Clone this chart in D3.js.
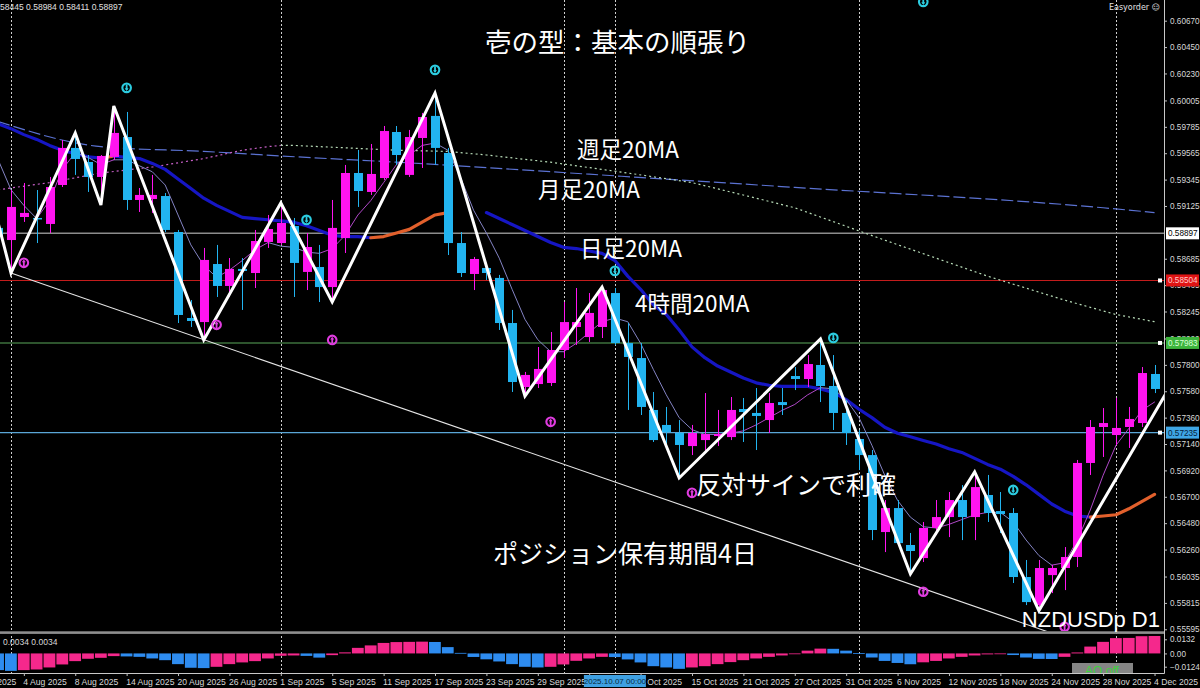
<!DOCTYPE html>
<html>
<head>
<meta charset="utf-8">
<script src="https://cdn.jsdelivr.net/npm/d3@7"></script>
<style>
  html, body { margin: 0; padding: 0; background: #000; overflow: hidden; }
  svg { display: block; }
  .ax text { font-family: "Liberation Sans", Arial, sans-serif; font-size: 8.2px; fill: #d8d8d8; }
  .ax line { stroke: #c0c0c0; }
  .ax path { display: none; }
  .jp { font-family: "Noto Sans CJK JP", sans-serif; fill: #fff; }
</style>
</head>
<body>
<svg id="chart" width="1200" height="688"></svg>
<script>
// daily bars, NZDUSDp D1
const dates = [
  "29 Jul 2025","30 Jul 2025","31 Jul 2025",
  "1 Aug 2025","4 Aug 2025","5 Aug 2025","6 Aug 2025","7 Aug 2025","8 Aug 2025","11 Aug 2025","12 Aug 2025","13 Aug 2025","14 Aug 2025",
  "15 Aug 2025","18 Aug 2025","19 Aug 2025","20 Aug 2025","21 Aug 2025","22 Aug 2025","25 Aug 2025","26 Aug 2025","27 Aug 2025","28 Aug 2025","29 Aug 2025",
  "1 Sep 2025","2 Sep 2025","3 Sep 2025","4 Sep 2025","5 Sep 2025","8 Sep 2025","9 Sep 2025","10 Sep 2025","11 Sep 2025","12 Sep 2025",
  "15 Sep 2025","16 Sep 2025","17 Sep 2025","18 Sep 2025","19 Sep 2025","22 Sep 2025","23 Sep 2025","24 Sep 2025","25 Sep 2025","26 Sep 2025","29 Sep 2025","30 Sep 2025",
  "1 Oct 2025","2 Oct 2025","3 Oct 2025","6 Oct 2025","7 Oct 2025","8 Oct 2025","9 Oct 2025","10 Oct 2025","13 Oct 2025","14 Oct 2025",
  "15 Oct 2025","16 Oct 2025","17 Oct 2025","20 Oct 2025","21 Oct 2025","22 Oct 2025","23 Oct 2025","24 Oct 2025","27 Oct 2025","28 Oct 2025","29 Oct 2025","30 Oct 2025","31 Oct 2025",
  "3 Nov 2025","4 Nov 2025","5 Nov 2025","6 Nov 2025","7 Nov 2025","10 Nov 2025","11 Nov 2025","12 Nov 2025","13 Nov 2025","14 Nov 2025",
  "17 Nov 2025","18 Nov 2025","19 Nov 2025","20 Nov 2025","21 Nov 2025","24 Nov 2025","25 Nov 2025","26 Nov 2025","27 Nov 2025","28 Nov 2025",
  "1 Dec 2025","2 Dec 2025","3 Dec 2025","4 Dec 2025","5 Dec 2025"
];

const open = [null, null,
  0.58942,0.58841,0.59033,0.59025,0.58975,0.59300,0.59609,0.59492,0.59367,0.59534,
  0.59700,0.59175,0.59183,0.59208,0.58908,0.58191,0.58157,0.58641,0.58458,0.58600,
  0.58566,0.58825,0.58816,0.58958,0.58575,0.58616,0.58449,0.58858,0.59400,0.59242,
  0.59358,0.59742,0.59384,0.59692,0.59876,0.59567,0.58816,0.58558,0.58608,0.58525,
  0.58149,0.57615,0.57640,0.57649,0.57924,0.58116,0.58032,0.58116,0.58399,0.57982,
  0.57857,0.57424,0.57299,0.57232,0.57123,0.57173,0.57207,0.57198,0.57432,0.57399,
  0.57340,0.57490,0.57707,0.57682,0.57799,0.57624,0.57399,0.57182,0.57048,0.56406,
  0.56606,0.56298,0.56189,0.56440,0.56531,0.56673,0.56531,0.56715,0.56581,0.56565,
  0.56031,0.55797,0.56047,0.56106,0.56198,0.56982,0.57282,0.57215,0.57282,0.57315,
  0.57724, null];

const high = [null, null,
  0.58992,0.59258,0.59317,0.59258,0.59367,0.59675,0.59734,0.59550,0.59550,0.59959,
  0.59909,0.59275,0.59384,0.59233,0.58925,0.58341,0.58775,0.58800,0.58691,0.58691,
  0.58925,0.59050,0.59150,0.59025,0.58900,0.58800,0.59175,0.59467,0.59592,0.59642,
  0.59792,0.59792,0.59759,0.59901,0.60067,0.59609,0.58908,0.58700,0.58633,0.58550,
  0.58258,0.57741,0.57949,0.58074,0.58324,0.58441,0.58399,0.58449,0.58441,0.58149,
  0.57982,0.57574,0.57449,0.57340,0.57299,0.57565,0.57424,0.57532,0.57524,0.57607,
  0.57565,0.57607,0.57782,0.57882,0.58016,0.57882,0.57507,0.57257,0.57090,0.56673,
  0.56673,0.56398,0.56490,0.56673,0.56740,0.56798,0.56907,0.56882,0.56740,0.56606,
  0.56173,0.56173,0.56131,0.56281,0.57007,0.57340,0.57440,0.57524,0.57449,0.57782,
  0.57799, null];

const low = [null, null,
  0.58841,0.58566,0.58992,0.58816,0.58900,0.59283,0.59384,0.59242,0.59133,0.59509,
  0.59092,0.59075,0.59067,0.58908,0.58149,0.58116,0.58007,0.58366,0.58366,0.58258,
  0.58441,0.58775,0.58800,0.58366,0.58424,0.58324,0.58324,0.58733,0.59117,0.59217,
  0.59342,0.59467,0.59367,0.59442,0.59467,0.58716,0.58533,0.58424,0.58508,0.58091,
  0.57574,0.57540,0.57607,0.57624,0.57857,0.57966,0.57991,0.58024,0.57966,0.57424,
  0.57382,0.57157,0.57115,0.56857,0.57048,0.57073,0.57123,0.57173,0.57157,0.57090,
  0.57232,0.57382,0.57590,0.57615,0.57490,0.57257,0.57132,0.56923,0.56339,0.56239,
  0.56298,0.56056,0.56156,0.56381,0.56364,0.56339,0.56339,0.56490,0.56398,0.55981,
  0.55797,0.55739,0.55897,0.55922,0.56114,0.56882,0.57032,0.57132,0.57107,0.57282,
  0.57565, null];

const close = [null, null,
  0.58866,0.59117,0.59067,0.59017,0.59283,0.59609,0.59517,0.59367,0.59542,0.59734,
  0.59175,0.59217,0.59217,0.58925,0.58216,0.58166,0.58675,0.58458,0.58600,0.58583,
  0.58833,0.58933,0.58983,0.58650,0.58783,0.58449,0.58942,0.59400,0.59250,0.59392,
  0.59750,0.59550,0.59700,0.59867,0.59609,0.58816,0.58566,0.58683,0.58566,0.58149,
  0.57657,0.57716,0.57766,0.57924,0.58157,0.58157,0.58233,0.58424,0.57982,0.57866,
  0.57449,0.57173,0.57240,0.57132,0.57232,0.57223,0.57223,0.57424,0.57407,0.57374,
  0.57482,0.57465,0.57682,0.57807,0.57624,0.57399,0.57232,0.57048,0.56423,0.56606,
  0.56314,0.56248,0.56440,0.56531,0.56673,0.56531,0.56781,0.56565,0.56556,0.56031,
  0.55822,0.56106,0.56106,0.56198,0.56982,0.57282,0.57315,0.57274,0.57349,0.57732,
  0.57599, null];

// 日足20MA (thick, blue falling / orange rising)
const maDaily = [null, null,
  0.5981,0.5977,0.5972,0.5968,0.5963,0.5959,0.5956,0.59535,0.59525,0.5954,
  0.5953,0.5952,0.5948,0.5943,0.5935,0.5927,0.5919,0.5913,0.5908,0.5903,
  0.5902,0.5901,0.5900,0.5899,0.5896,0.5892,0.5888,0.5887,0.5887,0.5886,
  0.5887,0.5890,0.5893,0.5899,0.5905,0.5907,null,null,0.5907,0.5902,
  0.5897,0.5892,0.5887,0.5882,0.5878,0.5877,0.5875,0.5873,0.5867,0.5854,
  0.5843,0.5830,0.5822,0.5809,0.5795,0.5786,0.5779,0.5774,0.5769,0.5765,
  0.5763,0.5762,0.5762,0.5762,0.5760,0.5757,0.5751,0.5743,0.5736,0.5728,
  0.5723,0.5720,0.5717,0.5714,0.5710,0.5707,0.5702,0.5697,0.5693,0.5687,
  0.5680,0.5672,0.5664,0.5658,0.5654,0.5653,0.5654,0.5655,0.5660,0.5666,
  0.5672, null];

// 4時間20MA (thin)
const ma4h = [null, null,
  0.5951,0.5926,0.5913,0.5902,0.5917,0.5943,0.5957,0.5953,0.5947,0.5951,
  0.5951,0.5946,0.5941,0.5930,0.5905,0.5880,0.5863,0.5853,0.5859,0.5867,
  0.5876,0.5882,0.5879,0.5878,0.5874,0.5873,0.5877,0.5888,0.5905,0.5917,
  0.5932,0.5947,0.5955,0.5963,0.5965,0.5959,0.5936,0.5909,0.5890,0.5869,
  0.5843,0.5818,0.5801,0.5791,0.5791,0.5798,0.5807,0.5816,0.5819,0.5816,
  0.5798,0.5776,0.5755,0.5736,0.5726,0.5722,0.5722,0.5723,0.5725,0.5730,
  0.5736,0.5742,0.5747,0.5755,0.5761,0.5760,0.5751,0.5736,0.5713,0.5688,
  0.5667,0.5653,0.5645,0.5644,0.5647,0.5651,0.5655,0.5657,0.5657,0.5649,
  0.5634,0.5621,0.5613,0.5615,0.5634,0.5659,0.5688,0.5713,0.5727,0.5742,
  0.5749, null];

// 週足20MA (dotted)
const maWeekDates = ["31 Jul 2025","6 Aug 2025","12 Aug 2025","18 Aug 2025","22 Aug 2025","27 Aug 2025","29 Aug 2025","1 Sep 2025",
  "2 Sep 2025","12 Sep 2025","18 Sep 2025","23 Sep 2025","30 Sep 2025","8 Oct 2025","15 Oct 2025","22 Oct 2025","27 Oct 2025",
  "5 Nov 2025","17 Nov 2025","25 Nov 2025","1 Dec 2025","4 Dec 2025"];
const maWeek = [0.5926,0.5932,0.5940,0.5945,0.5952,0.5959,0.5962,0.5963,
  0.5963,0.5959,0.5958,0.5955,0.5949,0.5940,0.5932,0.5919,0.5911,
  0.5884,0.5854,0.5834,0.5822,0.5816];

// 月足20MA (dashed)
const maMonthDates = ["31 Jul 2025","12 Aug 2025","22 Aug 2025","3 Sep 2025","12 Sep 2025","3 Oct 2025","27 Oct 2025","28 Nov 2025","4 Dec 2025"];
const maMonth = [0.5983,0.5962,0.5958,0.5953,0.5949,0.5939,0.5928,0.5911,0.5907];

// ZigZag
const zigDates = ["30 Jul 2025","1 Aug 2025","8 Aug 2025","12 Aug 2025","13 Aug 2025","22 Aug 2025","1 Sep 2025","5 Sep 2025",
  "17 Sep 2025","26 Sep 2025","6 Oct 2025","14 Oct 2025","29 Oct 2025","7 Nov 2025","14 Nov 2025","21 Nov 2025","5 Dec 2025"];
const zigPrice = [0.5940,0.58566,0.59734,0.59133,0.59959,0.58007,0.59150,0.58324,
  0.60067,0.57540,0.58449,0.56857,0.58016,0.56056,0.56907,0.55750,0.57583];

// trend line
const trendDates = ["1 Aug 2025","24 Nov 2025"];
const trendPrice = [0.58566, 0.55563];

// signal arrows
const sellDates = ["14 Aug 2025","3 Sep 2025","17 Sep 2025","7 Oct 2025","30 Oct 2025","10 Nov 2025","19 Nov 2025"];
const sellPrice = [0.60110,0.59009,0.60260,0.58584,0.58025,0.60827,0.56757];
const buyDates = ["4 Aug 2025","25 Aug 2025","5 Sep 2025","30 Sep 2025","15 Oct 2025","10 Nov 2025","25 Nov 2025"];
const buyPrice = [0.58651,0.58134,0.58008,0.57325,0.56733,0.55908,0.55616];

// AO
const ao = [null, null,
  -0.0156,-0.0163,-0.0156,-0.0150,-0.0131,-0.0103,-0.0072,-0.0050,-0.0041,-0.0025,
  -0.0028,-0.0032,-0.0047,-0.0063,-0.0100,-0.0134,-0.0137,-0.0125,-0.0100,-0.0084,
  -0.0072,-0.0047,-0.0022,-0.0019,-0.0023,-0.0039,-0.0016,0.0010,0.0052,0.0075,
  0.0098,0.0106,0.0108,0.0110,0.0107,0.0059,0.0005,-0.0033,-0.0055,-0.0075,
  -0.0100,-0.0125,-0.0131,-0.0125,-0.0103,-0.0069,-0.0047,-0.0032,-0.0034,-0.0056,
  -0.0084,-0.0119,-0.0131,-0.0144,-0.0131,-0.0119,-0.0100,-0.0081,-0.0063,-0.0047,
  -0.0032,-0.0019,-0.0007,0.0026,0.0045,0.0043,0.0026,0.0004,-0.0038,-0.0070,
  -0.0089,-0.0101,-0.0083,-0.0070,-0.0047,-0.0032,-0.0019,-0.0009,-0.0004,-0.0015,
  -0.0038,-0.0051,-0.0052,-0.0032,0.0009,0.0064,0.0108,0.0143,0.0145,0.0161,
  0.0163, null];

// horizontal lines
const hPrices = [0.58897, 0.58504, 0.57983, 0.57235];
const hLine = ["#8c8c8c", "#c41c1c", "#5aa85a", "#5aa6d6"];
const hBox = ["#ffffff", "#e01414", "#3cb43c", "#3ea6e6"];
const hText = ["#000000", "#ffc8c8", "#d8ffd8", "#06223a"];

const priceTicks = [0.60670,0.60450,0.60230,0.60005,0.59785,0.59565,0.59345,0.59125,0.58685,0.58465,0.58245,0.58020,
  0.57800,0.57580,0.57360,0.57140,0.56920,0.56700,0.56480,0.56260,0.56035,0.55815,0.55595];
const aoTicks = [0.0132, 0, -0.0124];
const xTickLabels = ["29 Jul 2025","4 Aug 2025","8 Aug 2025","14 Aug 2025","20 Aug 2025","26 Aug 2025","1 Sep 2025","5 Sep 2025",
  "11 Sep 2025","17 Sep 2025","23 Sep 2025","29 Sep 2025","3 Oct 2025","9 Oct 2025","15 Oct 2025","21 Oct 2025","27 Oct 2025",
  "31 Oct 2025","6 Nov 2025","12 Nov 2025","18 Nov 2025","24 Nov 2025","28 Nov 2025","4 Dec 2025"];
const monthStarts = ["1 Aug 2025","1 Sep 2025","1 Oct 2025","3 Nov 2025","1 Dec 2025"];
const crossDate = "7 Oct 2025";

const svg = d3.select("#chart");
const plotR = 1164, mainB = 631, aoT = 634, aoB = 673;
const axFont = "Liberation Sans, Arial, sans-serif";

const x = d3.scaleLinear()
  .domain([dates.indexOf("1 Aug 2025"), dates.indexOf("1 Dec 2025")])
  .range([11, 1116]);
const y = d3.scaleLinear().domain([0.55595, 0.60670]).range([629.3, 20.7]);
const yAo = d3.scaleLinear().domain([-0.0124, 0.0132]).range([666.7, 639.3]);
const ix = d => dates.indexOf(d);

svg.append("rect").attr("width", 1200).attr("height", 688).attr("fill", "#000");

const defs = svg.append("defs");
defs.append("clipPath").attr("id", "cMain").append("rect").attr("x", 0).attr("y", 0).attr("width", plotR).attr("height", mainB);
defs.append("clipPath").attr("id", "cAo").append("rect").attr("x", 0).attr("y", aoT).attr("width", plotR).attr("height", aoB - aoT);

// vertical dotted separators + crosshair
const vg = svg.append("g");
monthStarts.concat([crossDate]).forEach(d => {
  vg.append("line")
    .attr("x1", Math.round(x(ix(d))) + 0.5).attr("x2", Math.round(x(ix(d))) + 0.5)
    .attr("y1", 0).attr("y2", aoB)
    .attr("stroke", "#cfcfcf").attr("stroke-width", 1).attr("stroke-dasharray", "2,2");
});

const main = svg.append("g").attr("clip-path", "url(#cMain)");

// horizontal lines
hPrices.forEach((p, i) => {
  main.append("line")
    .attr("x1", 0).attr("x2", plotR)
    .attr("y1", y(p)).attr("y2", y(p))
    .attr("stroke", hLine[i]).attr("stroke-width", i === 0 ? 1.6 : 1.1);
});

// run-coloured line helper: colour by direction
function runLine(g, pts, upCol, downCol, width, dash) {
  const line = d3.line().x(d => x(d[0])).y(d => y(d[1]));
  let run = [], col = null;
  const flush = () => {
    if (run.length > 1) {
      const p = g.append("path").datum(run).attr("d", line)
        .attr("fill", "none").attr("stroke", col).attr("stroke-width", width)
        .attr("stroke-linejoin", "round").attr("stroke-linecap", dash ? "butt" : "round");
      if (dash) p.attr("stroke-dasharray", dash);
    }
  };
  for (let i = 1; i < pts.length; i++) {
    const a = pts[i - 1], b = pts[i];
    if (a[1] == null || b[1] == null) { flush(); run = []; col = null; continue; }
    const c = b[1] > a[1] ? upCol : downCol;
    if (c !== col) { flush(); run = [a]; col = c; }
    run.push(b);
  }
  flush();
}

// monthly MA dashed
main.append("path")
  .datum(maMonthDates.map((d, i) => [ix(d), maMonth[i]]))
  .attr("d", d3.line().x(d => x(d[0])).y(d => y(d[1])).curve(d3.curveMonotoneX))
  .attr("fill", "none").attr("stroke", "#5b72d2").attr("stroke-width", 1.2).attr("stroke-dasharray", "12,4");

// weekly MA dotted
runLine(main, maWeekDates.map((d, i) => [ix(d), maWeek[i]]), "#c860c8", "#b8dcb8", 1.2, "2,3");

// daily MA thick
runLine(main, maDaily.map((v, i) => [i, v]), "#e2602c", "#1616c4", 3.2, null);

// 4H MA thin
runLine(main, ma4h.map((v, i) => [i, v]), "#b048c8", "#8484c4", 1, null);

// candles
const bull = "#ff14f0", bear = "#22b4f0";
const bars = d3.range(dates.length).filter(i => open[i] != null);
const cg = main.append("g");
cg.selectAll("line.wick").data(bars).join("line")
  .attr("x1", i => Math.round(x(i)) + 0.5).attr("x2", i => Math.round(x(i)) + 0.5)
  .attr("y1", i => y(high[i])).attr("y2", i => y(low[i]))
  .attr("stroke", i => close[i] >= open[i] ? bull : bear).attr("stroke-width", 1);
cg.selectAll("rect.body").data(bars).join("rect")
  .attr("x", i => Math.round(x(i)) - 4).attr("width", 9)
  .attr("y", i => y(Math.max(open[i], close[i])))
  .attr("height", i => Math.max(1.5, Math.abs(y(open[i]) - y(close[i]))))
  .attr("fill", i => close[i] >= open[i] ? bull : bear);

// trend line + zigzag
main.append("path")
  .datum(trendDates.map((d, i) => [ix(d), trendPrice[i]]))
  .attr("d", d3.line().x(d => x(d[0])).y(d => y(d[1])))
  .attr("stroke", "#e6e6e6").attr("stroke-width", 1.1).attr("fill", "none");
main.append("path")
  .datum(zigDates.map((d, i) => [ix(d), zigPrice[i]]))
  .attr("d", d3.line().x(d => x(d[0])).y(d => y(d[1])))
  .attr("stroke", "#ffffff").attr("stroke-width", 3).attr("fill", "none").attr("stroke-linejoin", "miter");

// signal markers
function marker(cx, cy, col, down) {
  const g = main.append("g").attr("transform", `translate(${cx},${cy})`);
  g.append("circle").attr("r", 4.3).attr("fill", "none").attr("stroke", col).attr("stroke-width", 2.1);
  g.append("line").attr("x1", 0).attr("x2", 0).attr("y1", down ? -3.5 : 3.5).attr("y2", down ? 2 : -2)
    .attr("stroke", col).attr("stroke-width", 1.8);
  g.append("path").attr("d", down ? "M-2,0.5L2,0.5L0,3.2Z" : "M-2,-0.5L2,-0.5L0,-3.2Z").attr("fill", col);
}
sellDates.forEach((d, i) => marker(x(ix(d)), y(sellPrice[i]), "#2ccce0", true));
buyDates.forEach((d, i) => marker(x(ix(d)), y(buyPrice[i]), "#e03ce0", false));

// AO histogram
const aoG = svg.append("g").attr("clip-path", "url(#cAo)");
const aoBars = d3.range(dates.length).filter(i => ao[i] != null);
aoG.selectAll("rect").data(aoBars).join("rect")
  .attr("x", i => x(i) - 6).attr("width", 11.8)
  .attr("y", i => Math.min(yAo(0), yAo(ao[i])))
  .attr("height", i => Math.max(0.8, Math.abs(yAo(ao[i]) - yAo(0))))
  .attr("fill", (i, k) => (k > 0 && ao[i] > ao[aoBars[k - 1]]) ? "#f5288c" : "#2e8cf0");
aoG.append("rect").attr("x", 1072).attr("y", 663).attr("width", 61).attr("height", 14).attr("fill", "#858585");
aoG.append("text").attr("x", 1102).attr("y", 675).attr("text-anchor", "middle")
  .attr("font-family", axFont).attr("font-size", 12).attr("fill", "#3ed23e").text("AO off");
svg.append("text").attr("x", 3).attr("y", 645)
  .attr("font-family", axFont).attr("font-size", 8.5).attr("fill", "#d8d8d8").text("0.0034 0.0034");

// panel borders
svg.append("rect").attr("x", 0).attr("y", 631.3).attr("width", plotR).attr("height", 2.6).attr("fill", "#8e8e8e");
svg.append("line").attr("x1", plotR + 0.5).attr("x2", plotR + 0.5).attr("y1", 0).attr("y2", aoB + 0.5).attr("stroke", "#c8c8c8");
svg.append("line").attr("x1", 0).attr("x2", plotR + 0.5).attr("y1", aoB + 0.5).attr("y2", aoB + 0.5).attr("stroke", "#c8c8c8");

// price axis
svg.append("g").attr("class", "ax").attr("transform", `translate(${plotR},0)`)
  .call(d3.axisRight(y).tickValues(priceTicks).tickFormat(d3.format(".5f")).tickSize(3).tickPadding(3));
// AO axis
svg.append("g").attr("class", "ax").attr("transform", `translate(${plotR},0)`)
  .call(d3.axisRight(yAo).tickValues(aoTicks).tickFormat(d => d === 0 ? "0.00" : d3.format(".4f")(d)).tickSize(3).tickPadding(3));

// price line boxes
hPrices.forEach((p, i) => {
  const yy = y(p);
  if (i > 0) svg.append("rect").attr("x", 1158).attr("y", yy - 2).attr("width", 4).attr("height", 4).attr("fill", "#fff");
  svg.append("rect").attr("x", 1166).attr("y", yy - 6).attr("width", 33).attr("height", 12).attr("fill", hBox[i]);
  svg.append("text").attr("x", 1168).attr("y", yy + 3)
    .attr("font-family", axFont).attr("font-size", 8.2).attr("fill", hText[i])
    .text(d3.format(".5f")(p));
});

// time axis
const xAx = svg.append("g").attr("class", "ax").attr("transform", `translate(0,${aoB})`)
  .call(d3.axisBottom(x).tickValues(xTickLabels.map(ix)).tickFormat(k => dates[k]).tickSize(3).tickPadding(3));
xAx.selectAll("text").attr("text-anchor", "start").attr("dx", "-1px").style("font-size", "8.6px");

// crosshair time box
const cxh = x(ix(crossDate));
svg.append("rect").attr("x", cxh - 31).attr("y", 675).attr("width", 62).attr("height", 12).attr("fill", "#3ea0e2");
svg.append("text").attr("x", cxh).attr("y", 684.3).attr("text-anchor", "middle")
  .attr("font-family", axFont).attr("font-size", 8).attr("fill", "#082840").text("2025.10.07 00:00");

// header texts
svg.append("text").attr("x", -7).attr("y", 10)
  .attr("font-family", axFont).attr("font-size", 8.5).attr("fill", "#e0e0e0")
  .text("0.58445 0.58984 0.58411 0.58897");
svg.append("text").attr("x", 1160).attr("y", 10).attr("text-anchor", "end")
  .attr("font-family", "DejaVu Sans, sans-serif").attr("font-size", 8).attr("fill", "#e0e0e0").text("Easyorder ☺");

// annotations
const notes = [
  ["壱の型：基本の順張り", 485, 52, 26.5],
  ["週足20MA", 577, 158, 22.5],
  ["月足20MA", 538, 198, 22.5],
  ["日足20MA", 580, 257, 22.5],
  ["4時間20MA", 635, 312, 22.5],
  ["反対サインで利確", 696, 494, 25],
  ["ポジション保有期間4日", 493, 563, 25]
];
notes.forEach(n => {
  svg.append("text").attr("class", "jp").attr("x", n[1]).attr("y", n[2]).attr("font-size", n[3]).text(n[0]);
});
svg.append("text").attr("x", 1160).attr("y", 627).attr("text-anchor", "end")
  .attr("font-family", axFont).attr("font-size", 22).attr("fill", "#fff").text("NZDUSDp D1");
</script>
</body>
</html>
